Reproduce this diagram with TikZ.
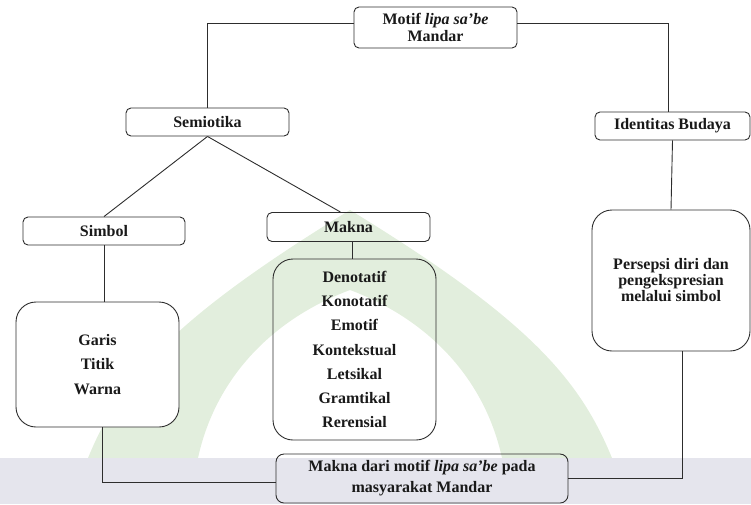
\documentclass[tikz,border=0pt]{standalone}
\usepackage{fontspec}
\setmainfont{Liberation Serif}
\definecolor{markgreen}{RGB}{226,238,221}
\definecolor{markgrey}{RGB}{229,229,237}
\definecolor{linegrey}{RGB}{45,45,45}
\def\domeshape{(88,458) .. controls (120,380) and (170,320) .. (350,210) .. controls (530,320) and (580,380) .. (612,458) -- (502,458) .. controls (485,380) and (430,320) .. (350,290) .. controls (270,320) and (215,380) .. (198,458) -- cycle}
\def\bandshape{(0,458) rectangle (751,504)}

\begin{document}
\begin{tikzpicture}[x=1pt, y=-1pt,
    box/.style={draw=linegrey, line width=0.9pt, rounded corners=5pt, inner sep=0pt,
      align=center, text=black!90, minimum width=163pt, minimum height=28pt,
      font=\bfseries\fontsize{16}{19}\selectfont},
    bigbox/.style={box, rounded corners=20pt},
    link/.style={draw=linegrey, line width=0.9pt}]
      \useasboundingbox (0,0) rectangle (751,504);

      % Watermark
      \begin{scope}
        \fill[markgreen] \domeshape;
        \fill[markgrey] \bandshape;
      \end{scope}

      % Boxes
      \node[box, minimum height=41pt] (motif) at (435.5,27.5) {Motif \textit{lipa sa’be}\\[-2pt]Mandar};
      \node[box] (semiotika) at (207.5,122) {Semiotika};
      \node[box, minimum width=155pt] (identitas) at (672.5,126) {Identitas Budaya};
      \node[box, minimum width=162pt] (simbol) at (104,231) {Simbol};
      \node[box, minimum height=29pt] (makna) at (348.5,227) {Makna};

      % Isi
      \node[bigbox, fill=white, minimum height=125pt] (garis) at (97.5,364.5) {Garis\\[5.5pt]Titik\\[5.5pt]Warna};
      \node[bigbox, minimum height=181pt, font=\bfseries\fontsize{16}{24.3}\selectfont] (jenis) at (354.5,349.5)
        {Denotatif\\Konotatif\\Emotif\\Kontekstual\\Letsikal\\Gramtikal\\Rerensial};
      \node[bigbox, minimum width=158pt, minimum height=141pt] (persepsi) at (671,280.5) {Persepsi diri dan\\[-3pt]pengekspresian\\[-3pt]melalui simbol};

      % Hasil
      \node[box, rounded corners=8pt, minimum width=292pt, minimum height=49pt] (hasil) at (422,478.5)
        {Makna dari motif \textit{lipa sa’be} pada\\[2pt]masyarakat Mandar};

      % Lines
      \draw[link] ([yshift=4.5pt]motif.west) -| (semiotika.north);
      \draw[link] ([yshift=4.5pt]motif.east) -| ([xshift=-4.5pt]identitas.north);
      \draw[link] (semiotika.south) -- (simbol.north);
      \draw[link] (semiotika.south) -- ([xshift=-8pt]makna.north);
      \draw[link] (simbol.south) -- (simbol.south |- garis.north);
      \draw[link] ([xshift=3.5pt]makna.south) -- ([xshift=3.5pt]makna.south |- jenis.north);
      \draw[link] (identitas.south) -- (persepsi.north);
      \draw[link] ([xshift=4.5pt]garis.south) |- ([yshift=-3.5pt]hasil.west);
      \draw[link] ([xshift=11pt]persepsi.south) |- ([yshift=0.5pt]hasil.east);
\end{tikzpicture}
\end{document}
